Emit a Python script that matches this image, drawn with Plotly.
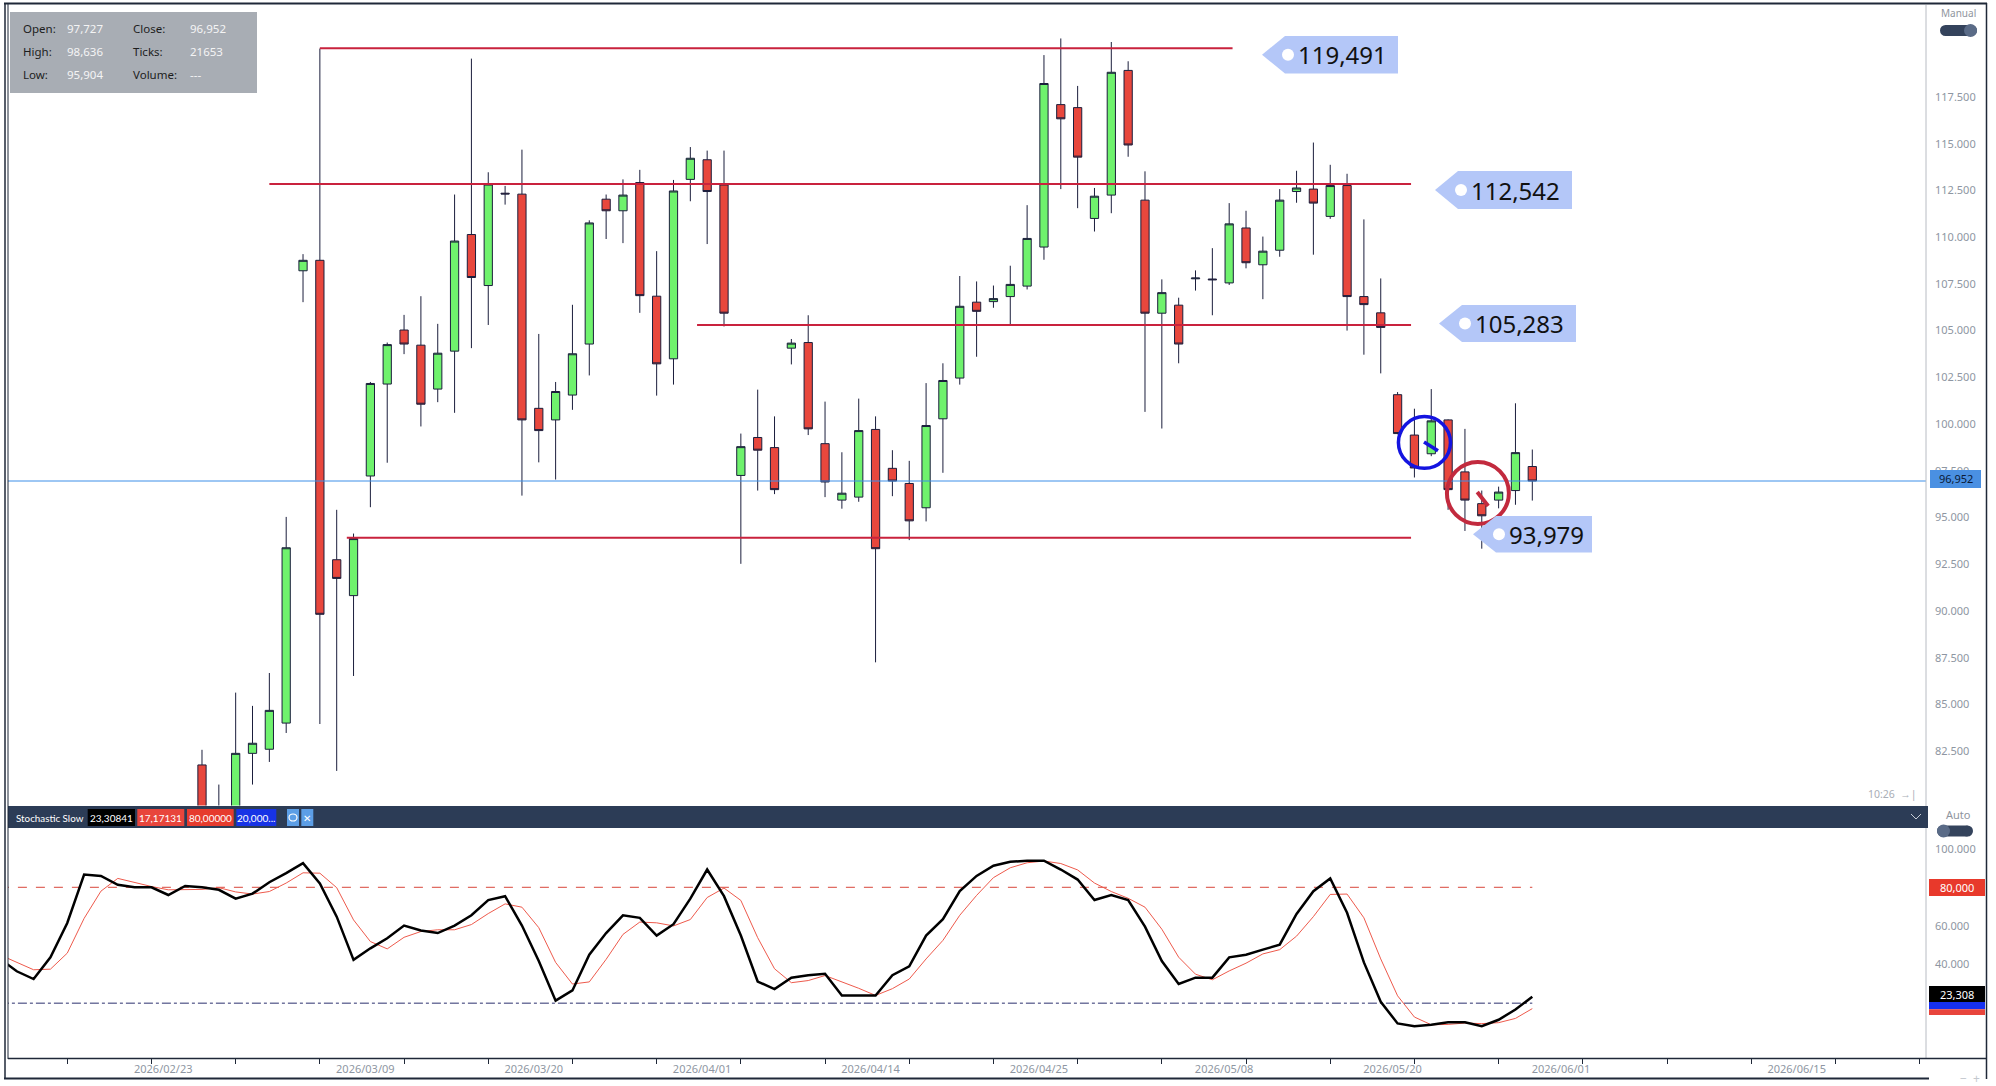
import plotly.graph_objects as go

W, H = 1996, 1086

def px(x):
    return x / W

def py(y):
    return 1 - y / H

# ---------------- data ----------------
candle_idx = list(range(80))
opens = [81.76, 79.3, 78.8, 82.38, 82.6, 84.0, 108.2, 108.76, 92.74, 90.82,
         97.22, 102.14, 105.03, 104.22, 101.87, 103.9, 110.14, 107.41, 112.35, 112.3,
         100.84, 100.22, 101.55, 104.28, 112.03, 111.41, 112.92, 106.84, 103.49, 113.09,
         114.14, 112.79, 97.25, 99.28, 98.74, 104.06, 104.36, 98.95, 95.93, 96.09,
         99.71, 97.63, 96.82, 95.52, 100.28, 102.46, 106.52, 106.55, 106.82, 107.38,
         109.47, 117.09, 116.93, 111.0, 112.25, 118.92, 111.98, 105.93, 106.36, 107.77,
         107.76, 107.55, 110.49, 108.52, 109.3, 112.44, 112.57, 111.11, 112.76, 106.82,
         105.95, 101.57, 99.41, 98.41, 100.22, 97.44, 95.74, 95.93, 96.44, 97.727]
highs = [82.57, 80.71, 85.63, 84.92, 86.68, 95.03, 109.09, 120.09, 95.41, 94.14,
         102.25, 104.36, 105.84, 106.84, 105.36, 112.28, 119.55, 113.47, 112.74, 114.68,
         104.82, 102.25, 106.38, 110.9, 112.28, 113.09, 113.6, 109.25, 113.06, 114.82,
         114.63, 114.63, 99.49, 101.84, 100.41, 104.55, 105.82, 101.2, 98.49, 101.36,
         100.41, 98.6, 98.03, 102.19, 103.25, 107.92, 107.63, 107.41, 108.47, 111.71,
         119.74, 120.63, 118.09, 112.63, 120.44, 119.41, 113.52, 107.74, 106.76, 108.22,
         109.41, 111.82, 111.41, 110.03, 112.57, 113.55, 115.06, 113.87, 113.39, 110.95,
         107.79, 101.71, 100.82, 101.87, 100.25, 99.74, 96.44, 96.65, 101.11, 98.636]
lows = [78.6, 77.9, 78.2, 80.71, 81.92, 83.47, 106.52, 83.95, 81.44, 86.52,
        95.55, 97.93, 103.74, 99.87, 101.17, 100.6, 104.06, 105.3, 111.74, 96.17,
        97.95, 97.03, 100.76, 102.6, 109.9, 109.68, 105.95, 101.52, 102.11, 111.92,
        109.63, 105.22, 92.52, 96.44, 96.25, 103.19, 99.41, 96.09, 95.47, 95.84,
        87.25, 96.14, 93.79, 94.79, 97.39, 102.11, 103.6, 106.22, 105.28, 107.2,
        108.79, 112.57, 111.55, 110.3, 111.28, 114.3, 100.65, 99.76, 103.25, 107.14,
        105.82, 107.44, 108.33, 106.68, 108.95, 111.84, 109.06, 110.98, 105.0, 103.71,
        102.71, 99.45, 97.14, 98.28, 95.41, 94.28, 93.33, 95.49, 95.68, 95.904]
closes = [79.0, 78.5, 82.38, 82.92, 84.68, 93.38, 108.76, 89.82, 91.74, 93.87,
          102.17, 104.25, 104.28, 101.06, 103.79, 109.79, 107.84, 112.84, 112.31, 100.22,
          99.65, 101.74, 103.76, 110.76, 111.41, 112.25, 106.87, 103.22, 112.47, 114.22,
          112.44, 105.93, 98.79, 98.6, 96.49, 104.33, 99.74, 96.9, 96.3, 99.65,
          93.33, 96.95, 94.82, 99.92, 102.33, 106.3, 106.03, 106.71, 107.47, 109.93,
          118.22, 116.33, 114.28, 112.19, 118.82, 114.93, 105.93, 107.03, 104.28, 107.81,
          107.72, 110.71, 108.63, 109.25, 111.98, 112.63, 111.82, 112.76, 106.82, 106.39,
          105.17, 99.49, 97.65, 100.17, 96.49, 95.93, 95.09, 96.36, 98.47, 96.952]

stoch_x = list(range(-12, 80))
stoch_k = [43, 36.5, 32.5, 43.7, 61.5, 86.6, 85.9, 81.3, 80, 80, 76, 80.7,
           80, 78.7, 74.1, 76.7, 82.6, 87.3, 92.5, 82, 64.8, 42.4,
           48.4, 53.6, 60.2, 57.6, 56.3, 60.2, 65.5, 73.4, 75.4, 60.2,
           41.8, 21.3, 26.6, 45.1, 56.3, 65.5, 64.2, 55, 60.9, 74.1,
           89.2, 75.4, 55, 31.2, 27.3, 33.2, 34.5, 35.2, 24, 24,
           24, 34.5, 39.1, 55, 63.5, 78, 85.9, 91.2, 93.2, 93.8,
           93.8, 89.2, 84, 73.4, 76, 73.4, 59.6, 41.8, 29.9, 33.2,
           33.2, 43.7, 45.1, 47.7, 50.3, 66.2, 78, 84.6, 66.8, 41.1,
           20.7, 9.5, 8.1, 8.8, 10.1, 10.1, 8.1, 11.4, 16.7, 23.308]
stoch_d = [45, 41, 37.3, 37.6, 45.9, 63.9, 78, 84.6, 82.4, 80.4, 78.7, 78.9,
           78.9, 79.8, 77.6, 76.5, 77.8, 82.2, 87.5, 87.3, 79.8, 63.1,
           51.9, 48.1, 54.1, 57.1, 58, 58, 60.7, 66.4, 71.4, 69.7,
           59.1, 41.1, 29.9, 31, 42.7, 55.6, 62, 61.6, 60, 63.3,
           74.7, 79.6, 73.2, 53.9, 37.8, 30.6, 31.7, 34.3, 31.2, 27.7,
           24, 27.5, 32.5, 42.9, 52.5, 65.5, 75.8, 85, 90.1, 92.7,
           93.6, 92.3, 89, 82.2, 77.8, 74.3, 69.7, 58.3, 43.8, 35,
           32.1, 36.7, 40.7, 45.5, 47.7, 54.7, 64.8, 76.3, 76.5, 64.2,
           42.9, 23.8, 12.8, 8.8, 9, 9.7, 9.4, 9.9, 12.1, 17.171]
stoch_levels = [80, 20]

level_values = [120.1, 112.84, 105.3, 93.92]
level_from = [7, 4, 29.4, 8.6]
level_to = [61.2, 71.8, 71.8, 71.8]
tag_texts = ["119,491", "112,542", "105,283", "93,979"]

price_ticks = [82.5, 85, 87.5, 90, 92.5, 95, 97.5, 100, 102.5, 105, 107.5, 110, 112.5, 115, 117.5]
stoch_ticks = [40, 60, 100]
date_pos = [-2.3, 9.7, 19.7, 29.7, 39.7, 49.7, 60.7, 70.7, 80.7, 94.7]
date_labels = ["2026/02/23", "2026/03/09", "2026/03/20", "2026/04/01", "2026/04/14",
               "2026/04/25", "2026/05/08", "2026/05/20", "2026/06/01", "2026/06/15"]

info_labels = [["Open:", "Close:"], ["High:", "Ticks:"], ["Low:", "Volume:"]]
info_values = [["97,727", "96,952"], ["98,636", "21653"], ["95,904", "---"]]
last_price = 96.952

# ---------------- styles ----------------
GREEN = "#6ff26d"
RED = "#e8473d"
OUTLINE = "#1b1e3c"
LEVEL = "#c9223d"
AXIS_TXT = "#8e96a2"
FONT = "Noto Sans"
NARROW = "Lato"

XRANGE = [-11.52, 102.38]

fig = go.Figure()

fig.add_trace(go.Candlestick(
    x=candle_idx, open=opens, high=highs, low=lows, close=closes,
    increasing=dict(fillcolor=GREEN, line=dict(color=OUTLINE, width=1)),
    decreasing=dict(fillcolor=RED, line=dict(color=OUTLINE, width=1)),
    xaxis="x", yaxis="y", showlegend=False, hoverinfo="skip"))

for lv, dash, col in zip(stoch_levels, ["dash", "dashdot"], ["#d8453a", "#2b2f6e"]):
    fig.add_trace(go.Scatter(x=[stoch_x[0], stoch_x[-1]], y=[lv, lv], mode="lines",
                             line=dict(color=col, width=1, dash=dash),
                             xaxis="x2", yaxis="y2", showlegend=False, hoverinfo="skip"))

fig.add_trace(go.Scatter(x=stoch_x, y=stoch_d, mode="lines",
                         line=dict(color="#ee5a4c", width=1),
                         xaxis="x2", yaxis="y2", showlegend=False, hoverinfo="skip"))
fig.add_trace(go.Scatter(x=stoch_x, y=stoch_k, mode="lines",
                         line=dict(color="#000000", width=2.5),
                         xaxis="x2", yaxis="y2", showlegend=False, hoverinfo="skip"))

shapes = []
annotations = []


def text(t, x, y, size, color, anchor="left", family=FONT):
    annotations.append(dict(text=t, x=px(x), y=py(y), xref="paper", yref="paper",
                            xanchor=anchor, yanchor="middle", showarrow=False,
                            font=dict(family=family, size=size, color=color)))


# level lines
for v, a, b in zip(level_values, level_from, level_to):
    shapes.append(dict(type="line", xref="x", yref="y", x0=a, x1=b, y0=v, y1=v,
                       line=dict(color=LEVEL, width=2)))

# last price line
shapes.append(dict(type="line", xref="paper", yref="y", x0=px(8), x1=px(1926),
                   y0=last_price, y1=last_price, line=dict(color="#3d8fe8", width=1)))

# circles
shapes.append(dict(type="circle", xref="x", yref="y", x0=71.05, x1=74.14, y0=97.63, y1=100.40,
                   line=dict(color="#1414e0", width=3.5)))
shapes.append(dict(type="line", xref="x", yref="y", x0=72.57, x1=73.4, y0=99.04, y1=98.57,
                   line=dict(color="#1414e0", width=3.5)))
shapes.append(dict(type="circle", xref="x", yref="y", x0=73.93, x1=77.61, y0=94.65, y1=97.97,
                   line=dict(color="#c22a3e", width=4)))
shapes.append(dict(type="line", xref="x", yref="y", x0=75.73, x1=76.38, y0=96.36, y1=95.62,
                   line=dict(color="#c22a3e", width=4)))

# tags
tag_geom = [(1262, 36, 73.5, 1398), (1435, 171, 209, 1572), (1439, 305, 342, 1576), (1473, 516, 552.5, 1592)]
for txt, (tip, top, bot, right) in zip(tag_texts, tag_geom):
    yc = (top + bot) / 2
    path = (f"M {px(tip)},{py(yc)} L {px(tip+23)},{py(top)} L {px(right)},{py(top)} "
            f"L {px(right)},{py(bot)} L {px(tip+23)},{py(bot)} Z")
    shapes.append(dict(type="path", xref="paper", yref="paper", path=path,
                       fillcolor="#b4c7f8", line=dict(width=0)))
    shapes.append(dict(type="circle", xref="paper", yref="paper",
                       x0=px(tip+20), x1=px(tip+32), y0=py(yc+6), y1=py(yc-6),
                       fillcolor="white", line=dict(width=0)))
    text(txt, tip + 34, yc, 24, "#111111")

# info box
shapes.append(dict(type="rect", xref="paper", yref="paper", x0=px(10), x1=px(257), y0=py(93), y1=py(12),
                   fillcolor="#a8adb4", line=dict(width=0)))
row_y = [28, 52, 75]
for r in range(3):
    for c, (lx, vx) in enumerate([(21, 65), (131, 188)]):
        text(info_labels[r][c], lx, row_y[r], 11.5, "#1d1d1d")
        text(info_values[r][c], vx, row_y[r], 11.5, "#f4f4f4")

# stochastic header bar
shapes.append(dict(type="rect", xref="paper", yref="paper", x0=px(8), x1=px(1928), y0=py(828), y1=py(806),
                   fillcolor="#2c3c56", line=dict(width=0)))
text("Stochastic Slow", 14, 817.5, 9.8, "white", family=NARROW)
hdr_boxes = [(87.7, 135, "#000000", "23,30841"), (137.3, 184.3, "#e8453c", "17,17131"),
             (187, 233.7, "#e63b2e", "80,00000"), (236.3, 276.3, "#1733e6", "20,000..."),
             (287, 299, "#5c9ee6", ""), (301.3, 313.3, "#5c9ee6", "✕")]
for x0, x1, col, txt in hdr_boxes:
    shapes.append(dict(type="rect", xref="paper", yref="paper", x0=px(x0), x1=px(x1), y0=py(826), y1=py(809),
                       fillcolor=col, line=dict(width=0)))
    if txt:
        text(txt, (x0 + x1) / 2, 817.5, 10, "white", anchor="center", family=NARROW)
shapes.append(dict(type="circle", xref="paper", yref="paper", x0=px(289), x1=px(297), y0=py(821), y1=py(814),
                   line=dict(color="white", width=1.2)))
shapes.append(dict(type="path", xref="paper", yref="paper",
                   path=f"M {px(1911)},{py(814)} L {px(1916)},{py(819)} L {px(1921)},{py(814)}",
                   line=dict(color="#c9ced6", width=1)))


# right axis labels / boxes
def box(x0, y0, x1, y1, col, txt, tcol):
    shapes.append(dict(type="rect", xref="paper", yref="paper", x0=px(x0), x1=px(x1), y0=py(y1), y1=py(y0),
                       fillcolor=col, line=dict(width=0)))
    if txt:
        text(txt, (x0 + x1) / 2, (y0 + y1) / 2, 11, tcol, anchor="center")


box(1930, 470, 1981, 488, "#4a90e2", "96,952", "#0b1a36")
box(1929, 879, 1985, 896, "#e8392b", "80,000", "white")
box(1929, 1002, 1985, 1009.3, "#1630f0", "", "")
box(1929, 1009.3, 1985, 1015, "#e8453c", "", "")
box(1929, 986, 1985, 1002, "#000000", "23,308", "white")


# toggles
def toggle(xl, xr, yc, knob_right):
    r = 5.5
    shapes.append(dict(type="rect", xref="paper", yref="paper", x0=px(xl + r), x1=px(xr - r),
                       y0=py(yc + r), y1=py(yc - r), fillcolor="#34435c", line=dict(width=0)))
    for cx in (xl + r, xr - r):
        shapes.append(dict(type="circle", xref="paper", yref="paper", x0=px(cx - r), x1=px(cx + r),
                           y0=py(yc + r), y1=py(yc - r), fillcolor="#34435c", line=dict(width=0)))
    kx = xr - 6.5 if knob_right else xl + 6.5
    shapes.append(dict(type="circle", xref="paper", yref="paper", x0=px(kx - 6.5), x1=px(kx + 6.5),
                       y0=py(yc + 6.5), y1=py(yc - 6.5), fillcolor="#5a6b87", line=dict(width=0)))


toggle(1940, 1977, 30.5, True)
toggle(1937, 1973, 831, False)
text("Manual", 1958, 13, 10, "#8f959e", anchor="center")
text("Auto", 1958, 814, 11, "#8f959e", anchor="center")
text("10:26  →|", 1866, 794, 10.5, "#a9aeb6")
text("−  +", 1970, 1078, 12, "#c4c8ce", anchor="center")


# frame lines
def pline(x0, y0, x1, y1, col, w):
    shapes.append(dict(type="line", xref="paper", yref="paper", x0=px(x0), x1=px(x1), y0=py(y0), y1=py(y1),
                       line=dict(color=col, width=w)))


pline(4, 3.5, 1987, 3.5, "#1f2838", 2)
pline(5, 3, 5, 1079, "#1f2838", 1.5)
pline(8, 3, 8, 1059, "#1f2838", 1)
pline(1986.5, 3, 1986.5, 1079, "#1f2838", 1.5)
pline(1926, 5, 1926, 806, "#b8bcc3", 1)
pline(1926, 828, 1926, 1058, "#b8bcc3", 1)
pline(8, 1058.5, 1986, 1058.5, "#1f2838", 1.5)
pline(4, 1078.5, 1929, 1078.5, "#1f2838", 2)

fig.update_layout(
    width=W, height=H, margin=dict(l=0, r=0, t=0, b=0),
    paper_bgcolor="white", plot_bgcolor="white",
    font=dict(family=FONT),
    xaxis=dict(domain=[px(8), px(1926)], range=XRANGE, anchor="y",
               showticklabels=False, showgrid=False, zeroline=False, showline=False,
               rangeslider=dict(visible=False), fixedrange=True),
    yaxis=dict(domain=[py(805.5), py(5)], range=[79.59, 122.42], anchor="x", side="right",
               tickmode="array", tickvals=price_ticks, tickformat=".3f",
               showgrid=False, zeroline=False, showline=False, ticks="",
               ticklabelstandoff=8, tickfont=dict(family=FONT, size=11, color=AXIS_TXT)),
    xaxis2=dict(domain=[px(8), px(1926)], range=XRANGE, anchor="y2",
                tickmode="array", tickvals=date_pos, ticktext=date_labels,
                showgrid=False, zeroline=False, showline=False, ticks="",
                ticklabelstandoff=3, tickfont=dict(family=FONT, size=11, color=AXIS_TXT),
                minor=dict(ticks="outside", ticklen=5, tickcolor="#1f2838", tickmode="linear",
                           tick0=2, dtick=5, showgrid=False)),
    yaxis2=dict(domain=[py(1058), py(828)], range=[-8.4, 110.7], anchor="x2", side="right",
                tickmode="array", tickvals=stoch_ticks, tickformat=".3f",
                showgrid=False, zeroline=False, showline=False, ticks="",
                ticklabelstandoff=8, tickfont=dict(family=FONT, size=11, color=AXIS_TXT)),
    shapes=shapes, annotations=annotations,
)

fig.write_html("out.html")
